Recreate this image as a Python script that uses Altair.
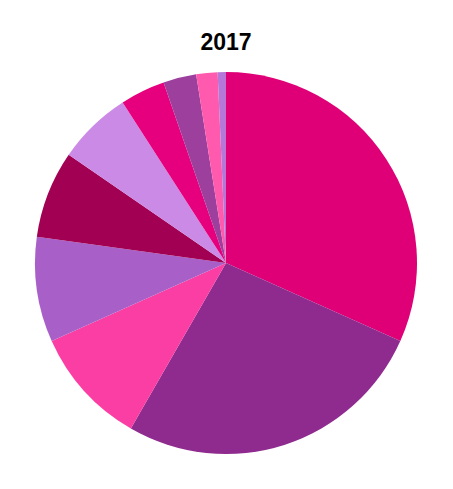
import altair as alt
import pandas as pd

categories = ["A", "B", "C", "D", "E", "F", "G", "H", "I", "J"]
values = [31.7, 26.6, 10.0, 8.9, 7.4, 6.3, 3.8, 2.8, 1.8, 0.7]
colors = ["#df0077", "#8f2a8f", "#fb3ea3", "#a95fc8", "#a20052",
          "#cb8ae6", "#e6007e", "#9d3f9d", "#ff5aad", "#b678d8"]

df = pd.DataFrame({"category": categories, "value": values,
                   "order": list(range(len(categories)))})

chart = alt.Chart(df).mark_arc(radius=191, stroke=None).encode(
    theta=alt.Theta("value:Q", stack=True),
    color=alt.Color("category:N", scale=alt.Scale(domain=categories, range=colors), legend=None),
    order=alt.Order("order:Q"),
).properties(
    width=436, height=400,
    title=alt.TitleParams("2017", fontSize=23, font="Liberation Sans", fontWeight="bold",
                          anchor="middle", offset=8, color="#000000"),
    autosize=alt.AutoSizeParams(type="none"),
    padding={"left": 0, "top": 55, "right": 0, "bottom": 0},
).configure_view(stroke=None)

chart.save("out.html", embed_options={"renderer": "svg", "actions": False})
